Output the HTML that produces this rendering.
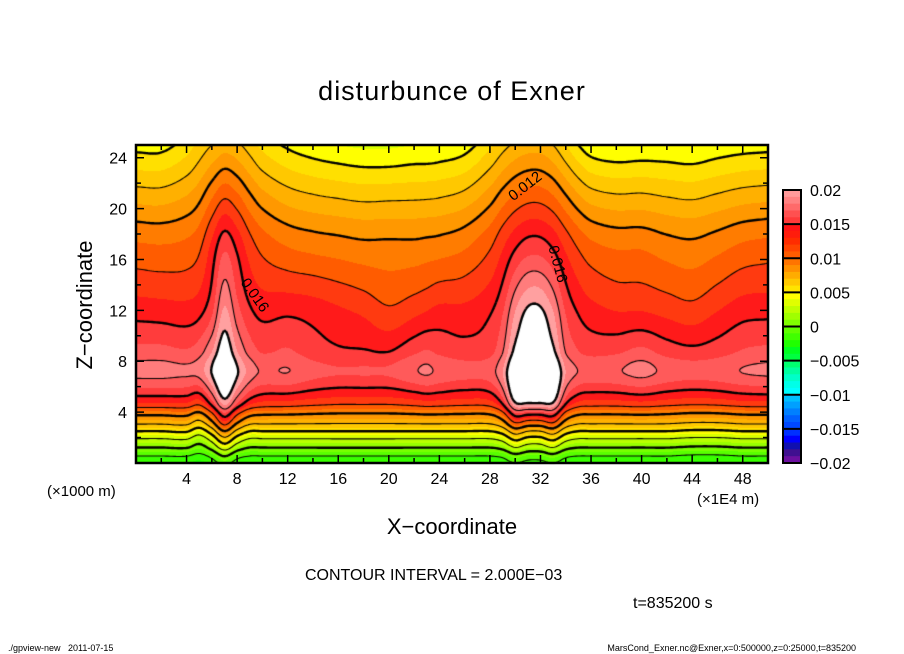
<!DOCTYPE html>
<html><head><meta charset="utf-8"><title>disturbunce of Exner</title>
<style>
html,body{margin:0;padding:0;background:#fff;}
#wrap{position:relative;width:904px;height:654px;overflow:hidden;font-family:"Liberation Sans",sans-serif;color:#000;}
.t{position:absolute;white-space:nowrap;}
canvas{position:absolute;left:0;top:0;}
svg{position:absolute;left:0;top:0;}
</style></head>
<body>
<div id="wrap">
<canvas id="cv" width="904" height="654"></canvas>
<svg id="sv" width="904" height="654"></svg>
<div class="t" style="left:0;width:904px;text-align:center;top:76px;font-size:27px;letter-spacing:1px;">disturbunce of Exner</div>
<div class="t" style="left:20px;top:292px;width:130px;text-align:center;font-size:22px;transform:rotate(-90deg);transform-origin:65px 13px;">Z−coordinate</div>
<div class="t" style="left:0;width:904px;text-align:center;top:514px;font-size:22px;">X−coordinate</div>
<div class="t" style="left:47px;top:483px;font-size:15px;">(×1000 m)</div>
<div class="t" style="left:697px;top:491px;font-size:15px;">(×1E4 m)</div>
<div class="t" style="left:305px;top:567px;font-size:16px;">CONTOUR INTERVAL = 2.000E−03</div>
<div class="t" style="left:633px;top:595px;font-size:16px;">t=835200 s</div>
<div class="t" style="left:8px;top:643px;font-size:9px;">./gpview-new &nbsp; 2011-07-15</div>
<div class="t" style="right:48px;top:643px;font-size:9px;">MarsCond_Exner.nc@Exner,x=0:500000,z=0:25000,t=835200</div>
</div>
<script>
// ---- data (values in units of 1e-3) ----
const baseZ = [0,0.55,1.2,1.9,2.5,3.1,3.9,4.6,5.9,7,7.8,8.8,12.8,17.6,20.7,23.5,25];
const baseVal = [1,2,4,6,8,10,12,14,16,17.1,16.9,16,14,12,10,8,7];
const anomX = [0,2,4,5,6,7,8,9,10,12,14,16,18,20,22,23,24,26,28,29,30,31,32,33,34,35,36,38,40,42,44,46,48,50];
const anomZ = [0,2.5,5,8,12,17,25];
const anomZ0  = [0,0,0,-0.3,0.3,1.5,0.3,0,0,0,0,0,0,0,0,0,0,0,0,0.2,1.0,0.5,0.5,1.0,0.2,0,0,0,0,0,-0.2,-0.2,0,0];
const anomZ2  = [0,0,0.2,-1.0,1.0,4.0,1.5,0,0,0,0,0,0,0,0,0,0,0,0,0.8,3.0,2.0,2.0,3.0,0.8,0,0,0,0,0,-0.3,-0.3,0,0];
const anomZ5  = [0.8,0.8,0.8,0.3,2.4,5.2,2.9,1.2,0.6,0.5,0.2,0,0,0,0.3,0.5,0.4,0.2,0.4,2.0,5.8,6.0,6.0,5.8,2.0,0.6,0.4,0.4,0.6,0.3,0.1,0.2,0.5,0.6];
const anomZ8  = [1.3,1.3,1.1,1.5,3.0,5.0,3.0,1.5,0.8,1.0,0.3,0,0,0,0.8,1.1,0.7,0.3,0.5,1.8,4.4,4.7,4.7,4.3,1.8,0.9,0.6,0.8,1.3,0.6,0.3,0.5,1.0,1.2];
const anomZ12 = [1.2,1.1,1.0,1.3,2.4,4.8,3.0,1.8,1.3,1.4,1.2,0.8,0.4,-0.2,0.3,0.6,0.9,0.9,1.5,2.5,4.6,5.8,5.8,4.6,2.5,1.5,1.0,0.6,0.6,0.3,0,0.6,1.2,1.3];
const anomZ17 = [0.9,0.8,1.0,1.5,3.0,4.5,3.5,2.2,1.4,0.7,0.4,0.2,0,0,0,0.1,0.2,0.6,1.6,2.6,3.6,4.2,4.2,3.6,2.5,1.6,1.0,0.6,0.6,0.2,0,0.4,0.9,1.1];
const anomZ25 = [0.6,0.6,1.5,2.3,3.0,3.5,3.2,2.5,1.7,0.8,0.3,0,-0.2,-0.2,0,0,0.1,0.5,1.8,2.6,3.2,3.5,3.5,3.0,2.0,1.0,0.3,0,0.1,0.1,0,0.3,0.5,0.6];
const contourLevels = [2,4,6,8,10,12,14,16,18,20];
const xTicks = [4,8,12,16,20,24,28,32,36,40,44,48];
const zTicks = [4,8,12,16,20,24];
const cbarLabels = ["0.02","0.015","0.01","0.005","0","−0.005","−0.01","−0.015","−0.02"];
// plot shading per 0.001 band, index 0 = [0,0.001)
const plotColors = ["#20ff00","#38ff00","#58ff00","#78ff00","#98ff00","#b8ff00","#d8ff00","#ffff00","#ffe000","#ffc800",
 "#ffb000","#ff9800","#ff7c00","#ff5c00","#ff3a10","#ff1a1a","#ff3c3c","#ff5a5a","#ff7c7c","#ffa0a0"];
const cbarColors = ["#ff9a9a","#ff8282","#ff6a6a","#ff5050","#ff3a3a",
 "#ff1414","#ff1c0c","#ff2c00","#ff4400","#ff5c00",
 "#ff7400","#ff9000","#ffac00","#ffc800","#ffe400",
 "#ffff00","#e0ff00","#c0ff00","#a0ff00","#80ff00",
 "#60ff00","#40ff00","#20ff00","#00ff20","#00ff40",
 "#00ff70","#00ffa0","#00ffc8","#00ffe8","#00ffff",
 "#00c0ff","#00a0ff","#0080ff","#0060ff","#0048ff",
 "#0030ff","#0000ff","#1010b0","#401090","#6c10a0"];
// ---- layout ----
const PX0=136, PX1=768, PY0=145, PY1=463, XMAX=50, ZMAX=25;
const sx = x => PX0 + x/XMAX*(PX1-PX0);
const sz = z => PY1 - z/ZMAX*(PY1-PY0);
function herm(xs, ys, x){
  const n=xs.length;
  if(x<=xs[0]) return ys[0];
  if(x>=xs[n-1]) return ys[n-1];
  let i=0; while(i<n-2 && x>xs[i+1]) i++;
  const x0=xs[i],x1=xs[i+1],h=x1-x0,t=(x-x0)/h;
  const d=j=>{ if(j<=0) return (ys[1]-ys[0])/(xs[1]-xs[0]); if(j>=n-1) return (ys[n-1]-ys[n-2])/(xs[n-1]-xs[n-2]); return (ys[j+1]-ys[j-1])/(xs[j+1]-xs[j-1]); };
  const m0=d(i)*h,m1=d(i+1)*h,t2=t*t,t3=t2*t;
  return (2*t3-3*t2+1)*ys[i]+(t3-2*t2+t)*m0+(-2*t3+3*t2)*ys[i+1]+(t3-t2)*m1;
}
const anomRows=[anomZ0,anomZ2,anomZ5,anomZ8,anomZ12,anomZ17,anomZ25];
function colorFor(v){
  if(v>=0.02) return "#ffffff";
  let k=Math.floor(v/0.001); if(k<0)k=0; if(k>19)k=19;
  return plotColors[k];
}
const cv=document.getElementById('cv'), ctx=cv.getContext('2d');
const W=PX1-PX0, H=PY1-PY0;
const G=2, nx=Math.ceil(W/G)+1, nz=Math.ceil(H/G)+1;
const grid=[];
for(let j=0;j<nz;j++){ grid.push(new Float64Array(nx)); }
for(let i=0;i<nx;i++){
  const x=Math.min(i*G,W)/W*XMAX;
  const col=anomRows.map(r=>herm(anomX,r,x));
  for(let j=0;j<nz;j++){
    const z=(H-Math.min(j*G,H))/H*ZMAX;
    grid[j][i]=(herm(baseZ,baseVal,z)+herm(anomZ,col,z))*1e-3;
  }
}
for(let i=0;i<W;i++){
  const x=(i+0.5)/W*XMAX;
  const col=anomRows.map(r=>herm(anomX,r,x));
  let prev=null,start=0;
  for(let j=0;j<=H;j++){
    let c=null;
    if(j<H){ const z=(H-j-0.5)/H*ZMAX; c=colorFor((herm(baseZ,baseVal,z)+herm(anomZ,col,z))*1e-3); }
    if(c!==prev){ if(prev){ctx.fillStyle=prev;ctx.fillRect(PX0+i,PY0+start,1,j-start);} prev=c;start=j; }
  }
}
contourLevels.forEach(L=>{
  const lv=L*1e-3;
  ctx.beginPath();
  for(let j=0;j<nz-1;j++)for(let i=0;i<nx-1;i++){
    const a=grid[j][i],b=grid[j][i+1],c=grid[j+1][i+1],d=grid[j+1][i];
    const pts=[];
    const X=k=>PX0+Math.min(k*G,W), Y=k=>PY0+Math.min(k*G,H);
    const e=(v1,v2,p1,p2)=>{const t=(lv-v1)/(v2-v1);return [p1[0]+(p2[0]-p1[0])*t,p1[1]+(p2[1]-p1[1])*t];};
    const P0=[X(i),Y(j)],P1=[X(i+1),Y(j)],P2=[X(i+1),Y(j+1)],P3=[X(i),Y(j+1)];
    if((a<lv)!==(b<lv)) pts.push(e(a,b,P0,P1));
    if((b<lv)!==(c<lv)) pts.push(e(b,c,P1,P2));
    if((c<lv)!==(d<lv)) pts.push(e(c,d,P2,P3));
    if((d<lv)!==(a<lv)) pts.push(e(d,a,P3,P0));
    for(let k=0;k+1<pts.length;k+=2){ctx.moveTo(pts[k][0],pts[k][1]);ctx.lineTo(pts[k+1][0],pts[k+1][1]);}
  }
  ctx.lineWidth=(L%4===0)?2.4:1.1; ctx.strokeStyle="#000"; ctx.stroke();
});
// ---- SVG overlay ----
const NS="http://www.w3.org/2000/svg", sv=document.getElementById('sv');
function mk(tag,attrs,parent){const el=document.createElementNS(NS,tag);for(const k in attrs)el.setAttribute(k,attrs[k]);(parent||sv).appendChild(el);return el;}
const frame=mk('rect',{x:PX0,y:PY0,width:W,height:H,fill:'none',stroke:'#000','stroke-width':2.5});


for(let v=2;v<XMAX;v+=2){
  const len=(v%4===0)?8:5, X=sx(v);
  const tk=mk('path',{d:`M${X},${PY1}v${-len}M${X},${PY0}v${len}`,stroke:'#000','stroke-width':1.5});
  
  
}
for(let v=2;v<ZMAX;v+=2){
  const len=(v%4===0)?8:5, Y=sz(v);
  const tk=mk('path',{d:`M${PX0},${Y}h${len}M${PX1},${Y}h${-len}`,stroke:'#000','stroke-width':1.5});
  
  
}
xTicks.forEach(v=>{
  const t=mk('text',{x:sx(v),y:484,'text-anchor':'middle','font-size':16,'font-family':'Liberation Sans, sans-serif'});
  t.textContent=v;
  
  
});
zTicks.forEach(v=>{
  const t=mk('text',{x:127,y:sz(v)+6,'text-anchor':'end','font-size':16,'font-family':'Liberation Sans, sans-serif'});
  t.textContent=v;
  
  
});
[["0.016",255,295,55],["0.012",525,186,-38],["0.016",558,264,75]].forEach(l=>{
  const t=mk('text',{x:l[1],y:l[2]+5,'text-anchor':'middle','font-size':15,'font-family':'Liberation Sans, sans-serif',transform:`rotate(${l[3]} ${l[1]} ${l[2]})`});
  t.textContent=l[0];
  
  
});
const CB0=190, CB1=463, CBX=783, CBW=18, bh=(CB1-CB0)/cbarColors.length;
cbarColors.forEach((c,k)=>{
  const r=mk('rect',{x:CBX,y:CB0+k*bh,width:CBW,height:bh+0.5,fill:c});
  
  
});
for(let g=1;g<8;g++){
  const ln=mk('line',{x1:CBX,x2:CBX+CBW,y1:CB0+g*5*bh,y2:CB0+g*5*bh,stroke:'#000','stroke-width':2});
  
  
}
const cbf=mk('rect',{x:CBX,y:CB0,width:CBW,height:CB1-CB0,fill:'none',stroke:'#000','stroke-width':2});


cbarLabels.forEach((s,k)=>{
  const t=mk('text',{x:810,y:CB0+k*5*bh+6,'font-size':16,'font-family':'Liberation Sans, sans-serif'});
  t.textContent=s;
  
  
});
</script>
</body></html>
